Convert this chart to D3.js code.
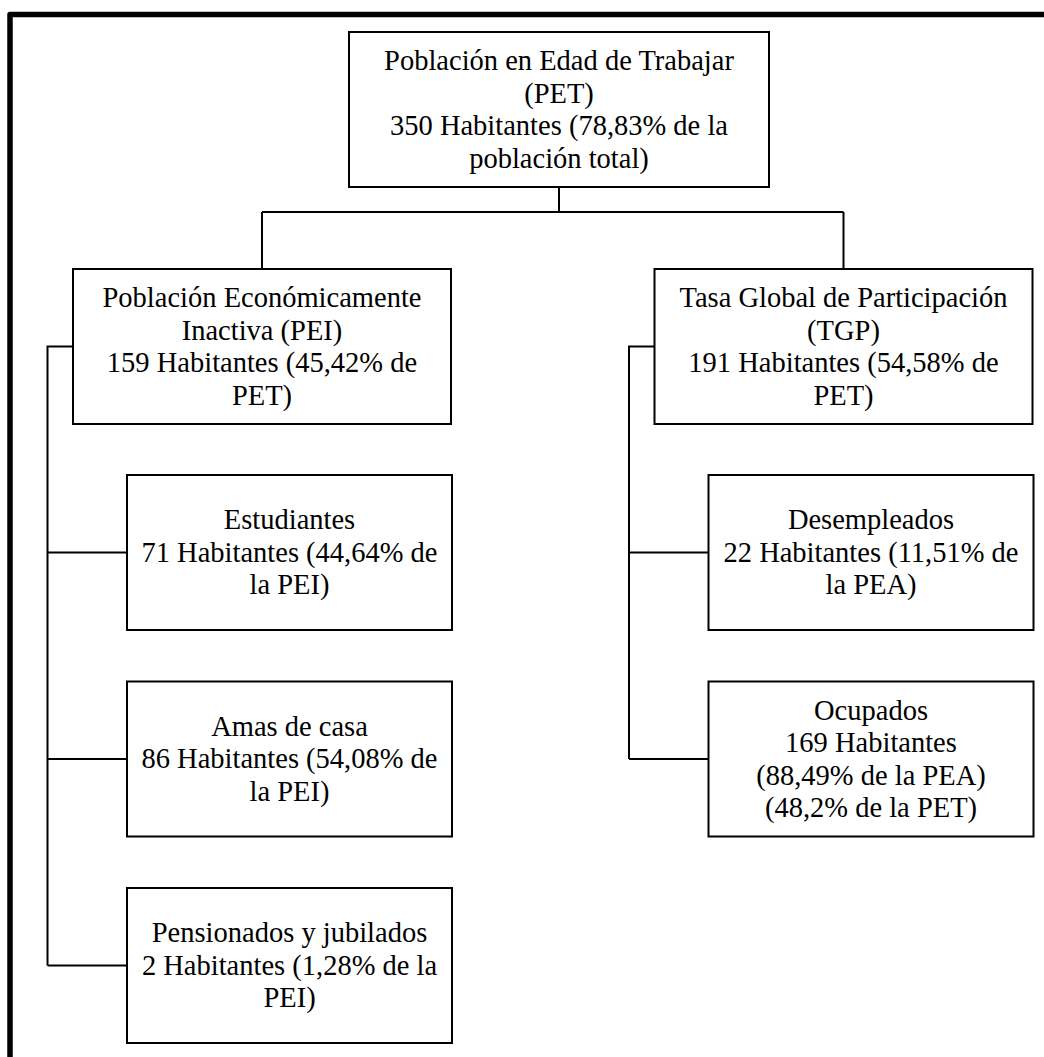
<!DOCTYPE html>
<html>
<head>
<meta charset="utf-8">
<script src="https://cdn.jsdelivr.net/npm/d3@7"></script>
<style>
  html, body { margin: 0; padding: 0; background: #fff; }
  svg { display: block; }
  text { font-family: "Liberation Serif", "Times New Roman", serif; fill: #000; }
</style>
</head>
<body>
<svg id="chart" width="1044" height="1057"></svg>
<script>
// ---- data ----
const nodeIds = ["PET", "PEI", "TGP", "EST", "AMA", "PEN", "DES", "OCU"];
const nodeParents = [null, "PET", "PET", "PEI", "PEI", "PEI", "TGP", "TGP"];
const habitantes = [350, 159, 191, 71, 86, 2, 22, 169];
const nodeLabels = [
  ["Población en Edad de Trabajar", "(PET)", "350 Habitantes (78,83% de la", "población total)"],
  ["Población Económicamente", "Inactiva (PEI)", "159 Habitantes (45,42% de", "PET)"],
  ["Tasa Global de Participación", "(TGP)", "191 Habitantes (54,58% de", "PET)"],
  ["Estudiantes", "71 Habitantes (44,64% de", "la PEI)"],
  ["Amas de casa", "86 Habitantes (54,08% de", "la PEI)"],
  ["Pensionados y jubilados", "2 Habitantes (1,28% de la", "PEI)"],
  ["Desempleados", "22 Habitantes (11,51% de", "la PEA)"],
  ["Ocupados", "169 Habitantes", "(88,49% de la PEA)", "(48,2% de la PET)"]
];

// ---- build hierarchy ----
const table = nodeIds.map((id, i) => ({ id, parent: nodeParents[i], value: habitantes[i], lines: nodeLabels[i] }));
const root = d3.stratify().id(d => d.id).parentId(d => d.parent)(table);

// ---- layout ----
const boxH = 155;
const widthByDepth = [420, 378, 325];
const branchX = d3.scalePoint().domain(root.children.map(c => c.id)).range([262, 843.5]);
const rowY = d3.scaleLinear().domain([0, 2]).range([475, 888]);
const depthTop = [32, 269];
const childIndent = 54, bracketOffset = 25.5;

root.each(n => {
  const w = widthByDepth[n.depth];
  if (n.depth === 0) {
    n.cx = 559; n.top = depthTop[0];
  } else if (n.depth === 1) {
    n.cx = branchX(n.id); n.top = depthTop[1];
  } else {
    const pLeft = n.parent.cx - widthByDepth[1] / 2;
    n.cx = pLeft + childIndent + w / 2;
    n.top = rowY(n.parent.children.indexOf(n));
  }
  n.w = w;
  n.left = n.cx - w / 2;
  n.midY = n.top + boxH / 2;
});

const svg = d3.select("#chart");

// outer frame (top and left edges)
svg.append("path")
  .attr("d", "M10,1060 L10,14.5 L1046,14.5")
  .attr("fill", "none").attr("stroke", "#000")
  .attr("stroke-width", 5.5).attr("stroke-linejoin", "round");

const lines = svg.append("g").attr("fill", "none").attr("stroke", "#000").attr("stroke-width", 2);

// root -> level 1 connectors
const busY = root.top + boxH + 25;
lines.append("path").attr("d", `M${root.cx},${root.top + boxH} V${busY}`);
const xs = root.children.map(c => c.cx);
lines.append("path").attr("d", `M${d3.min(xs)},${busY} H${d3.max(xs)}`);
root.children.forEach(c => {
  lines.append("path").attr("d", `M${c.cx},${busY} V${c.top}`);
  // bracket to children
  const bx = c.left - bracketOffset;
  const last = c.children[c.children.length - 1];
  lines.append("path").attr("d", `M${c.left},${c.midY} H${bx} V${last.midY}`);
  c.children.forEach(k => {
    lines.append("path").attr("d", `M${bx},${k.midY} H${k.left}`);
  });
});

// boxes
const fontSize = 28.5, lineH = 32.5;
const nodes = svg.append("g").selectAll("g").data(root.descendants()).join("g");
nodes.append("rect")
  .attr("x", d => d.left).attr("y", d => d.top)
  .attr("width", d => d.w).attr("height", boxH)
  .attr("fill", "#fff").attr("stroke", "#000").attr("stroke-width", 2);

nodes.each(function(d) {
  const ls = d.data.lines;
  const t = d3.select(this).append("text")
    .attr("text-anchor", "middle")
    .attr("font-size", fontSize);
  ls.forEach((s, i) => {
    t.append("tspan")
      .attr("x", d.cx)
      .attr("y", d.midY + (i - (ls.length - 1) / 2) * lineH + fontSize * 0.33)
      .text(s);
  });
});
</script>
</body>
</html>
